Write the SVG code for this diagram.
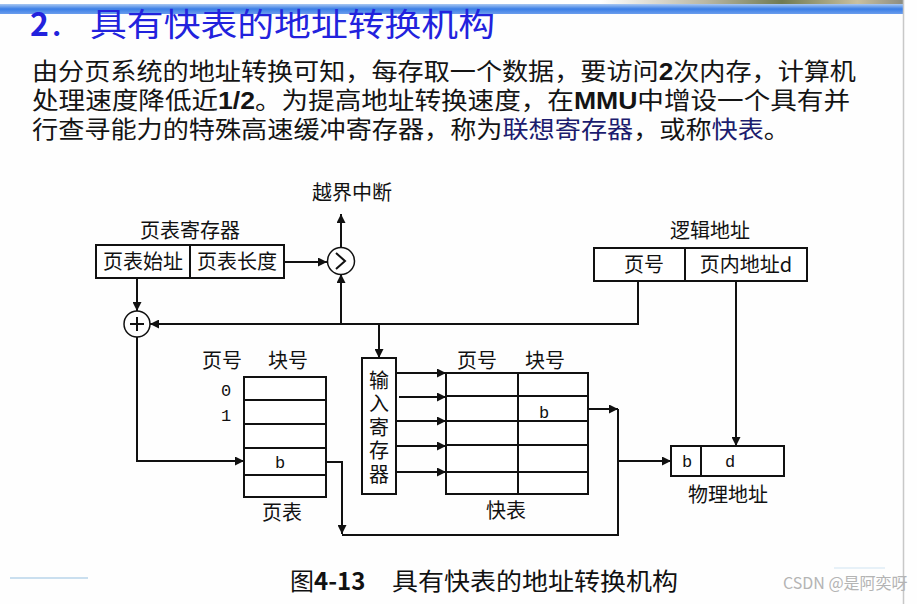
<svg xmlns="http://www.w3.org/2000/svg" width="917" height="604" viewBox="0 0 917 604">
<style>
  .cjk { font-family: "Noto Sans CJK SC", "Noto Sans", sans-serif; }
  .lbl { font-family: "Noto Sans CJK SC", "Noto Sans", sans-serif; font-size: 20px; fill: #111; text-anchor: middle; }
  .mono { font-family: "Liberation Mono", "DejaVu Sans Mono", monospace; font-size: 17px; fill: #111; text-anchor: middle; }
  .box { fill: #fff; stroke: #111; stroke-width: 2; }
  .ln { fill: none; stroke: #111; stroke-width: 2; }
  .wire { fill: none; stroke: #111; stroke-width: 2; }
  .arr { marker-end: url(#ah); }
  .body { font-family: "Liberation Sans", "Noto Sans CJK SC", sans-serif; font-size: 24px; fill: #141414; }
  .b { font-weight: bold; }
  .hl { fill: #1c1c6e; }
</style>
<defs>
  <marker id="ah" viewBox="0 0 10 10" refX="10" refY="5" markerWidth="11" markerHeight="9" markerUnits="userSpaceOnUse" orient="auto">
    <path d="M0,0 L10,5 L0,10 z" fill="#111"/>
  </marker>
  <linearGradient id="bar" x1="0" y1="0" x2="0" y2="1">
    <stop offset="0" stop-color="#a9c8f2"/>
    <stop offset="0.5" stop-color="#3a7ee6"/>
    <stop offset="1" stop-color="#6b9ded"/>
  </linearGradient>
  <linearGradient id="photo" x1="0" y1="0" x2="1" y2="0">
    <stop offset="0" stop-color="#ffffff"/>
    <stop offset="0.35" stop-color="#b9b7a4"/>
    <stop offset="0.6" stop-color="#6f7a52"/>
    <stop offset="0.85" stop-color="#c9c0a0"/>
    <stop offset="1" stop-color="#8c8c80"/>
  </linearGradient>
</defs>
<rect x="0" y="0" width="917" height="604" fill="#fefefe"/>

<g id="header">
  <rect x="600" y="0" width="303" height="6" fill="url(#photo)"/>
  <rect x="0" y="4" width="903" height="10" fill="url(#bar)"/>
  <line x1="903.5" y1="0" x2="903.5" y2="604" stroke="#c8c8c8" stroke-width="1.5"/>
</g>

<g id="title">
  <text class="cjk" x="30" y="36" font-size="32" fill="#2222dd" font-weight="bold">2<tspan font-weight="normal">．</tspan></text>
  <text class="cjk" x="90" y="36" font-size="32" fill="#2222dd" textLength="405" lengthAdjust="spacingAndGlyphs">具有快表的地址转换机构</text>
</g>

<g id="intro">
  <text class="body"><tspan x="32" y="80" textLength="824" lengthAdjust="spacingAndGlyphs">由分页系统的地址转换可知，每存取一个数据，要访问<tspan class="b">2</tspan>次内存，计算机</tspan><tspan x="32" y="109" textLength="818" lengthAdjust="spacingAndGlyphs">处理速度降低近<tspan class="b">1/2</tspan>。为提高地址转换速度，在<tspan class="b">MMU</tspan>中增设一个具有并</tspan><tspan x="32" y="138" textLength="758" lengthAdjust="spacingAndGlyphs">行查寻能力的特殊高速缓冲寄存器，称为<tspan class="hl">联想寄存器</tspan>，或称<tspan class="hl">快表</tspan>。</tspan></text>
</g>

<g id="connectors">
  <path class="wire arr" d="M284,262 H327"/>
  <path class="wire arr" d="M341,248 V214"/>
  <path class="wire arr" d="M638,281 V324 H150"/>
  <path class="wire arr" d="M341,324 V274"/>
  <path class="wire arr" d="M379,324 V358"/>
  <path class="wire arr" d="M137,278 V311"/>
  <path class="wire arr" d="M137,337 V461 H244"/>
  <path class="wire arr" d="M326,462 H342 V534"/>
  <path class="wire" d="M342,535 H618 V409"/>
  <path class="wire arr" d="M588,409 H618"/>
  <path class="wire arr" d="M618,461 H671"/>
  <path class="wire arr" d="M736,281 V446"/>
  <path class="wire arr" d="M397,373 H446"/>
  <path class="wire arr" d="M399,397 H446"/>
  <path class="wire arr" d="M396,421 H446"/>
  <path class="wire arr" d="M396,446 H446"/>
  <path class="wire arr" d="M396,472 H446"/>
</g>

<g id="interrupt-label">
  <text class="lbl" x="352" y="200">越界中断</text>
</g>

<g id="page-table-register">
  <text class="lbl" x="190" y="238">页表寄存器</text>
  <rect class="box" x="96" y="245" width="188" height="33"/>
  <line class="ln" x1="190" y1="245" x2="190" y2="278"/>
  <text class="lbl" x="143" y="269">页表始址</text>
  <text class="lbl" x="237" y="269">页表长度</text>
</g>

<g id="comparator">
  <circle cx="341" cy="261" r="13.5" fill="#fff" stroke="#111" stroke-width="1.5"/>
  <path class="ln" d="M336,253 L345,261 L336,269"/>
</g>

<g id="adder">
  <circle cx="137" cy="324" r="13" fill="#fff" stroke="#111" stroke-width="1.5"/>
  <path class="ln" d="M137,317 V331 M130,324 H144"/>
</g>

<g id="logical-address">
  <text class="lbl" x="710" y="238">逻辑地址</text>
  <rect class="box" x="594" y="248" width="213" height="33"/>
  <line class="ln" x1="685" y1="248" x2="685" y2="281"/>
  <text class="lbl" x="644" y="272">页号</text>
  <text class="lbl" x="746" y="272">页内地址d</text>
</g>

<g id="page-table">
  <text class="lbl" x="222" y="368">页号</text>
  <text class="lbl" x="288" y="368">块号</text>
  <rect class="box" x="244" y="377" width="82" height="120"/>
  <path class="ln" d="M244,400 H326 M244,424 H326 M244,448 H326 M244,475 H326"/>
  <text class="mono" x="226" y="396">0</text>
  <text class="mono" x="226" y="421">1</text>
  <text class="mono" x="280" y="468">b</text>
  <text class="lbl" x="282" y="520">页表</text>
</g>

<g id="input-register">
  <rect class="box" x="362" y="358" width="34" height="136"/>
  <text x="379" y="370" font-family="Noto Sans CJK SC, sans-serif" font-size="20" fill="#111" writing-mode="vertical-rl" letter-spacing="3.5">输入寄存器</text>
</g>

<g id="tlb">
  <text class="lbl" x="477" y="368">页号</text>
  <text class="lbl" x="545" y="368">块号</text>
  <rect class="box" x="446" y="373" width="142" height="121"/>
  <line class="ln" x1="518" y1="373" x2="518" y2="494"/>
  <path class="ln" d="M446,396 H588 M446,421 H588 M446,445 H588 M446,472 H588"/>
  <text class="mono" x="544" y="418">b</text>
  <text class="lbl" x="506" y="518">快表</text>
</g>

<g id="physical-address">
  <rect class="box" x="671" y="446" width="113" height="30"/>
  <line class="ln" x1="701" y1="446" x2="701" y2="476"/>
  <text class="mono" x="687" y="467">b</text>
  <text class="mono" x="730" y="467">d</text>
  <text class="lbl" x="728" y="502">物理地址</text>
</g>

<g id="caption">
  <text class="cjk" x="290" y="590" font-size="24" fill="#111">图<tspan font-weight="bold">4-13</tspan></text>
  <text class="cjk" x="392" y="590" font-size="24" fill="#111" textLength="286" lengthAdjust="spacingAndGlyphs">具有快表的地址转换机构</text>
</g>

<g id="decor">
  <line x1="10" y1="578" x2="88" y2="578" stroke="#b8d4ea" stroke-width="1.5"/>
  <line x1="834" y1="568" x2="885" y2="568" stroke="#d0e4f2" stroke-width="1"/>
  <text class="cjk" x="783" y="589" font-size="16" fill="#b4b4b4">CSDN @是阿奕呀</text>
</g>
</svg>
